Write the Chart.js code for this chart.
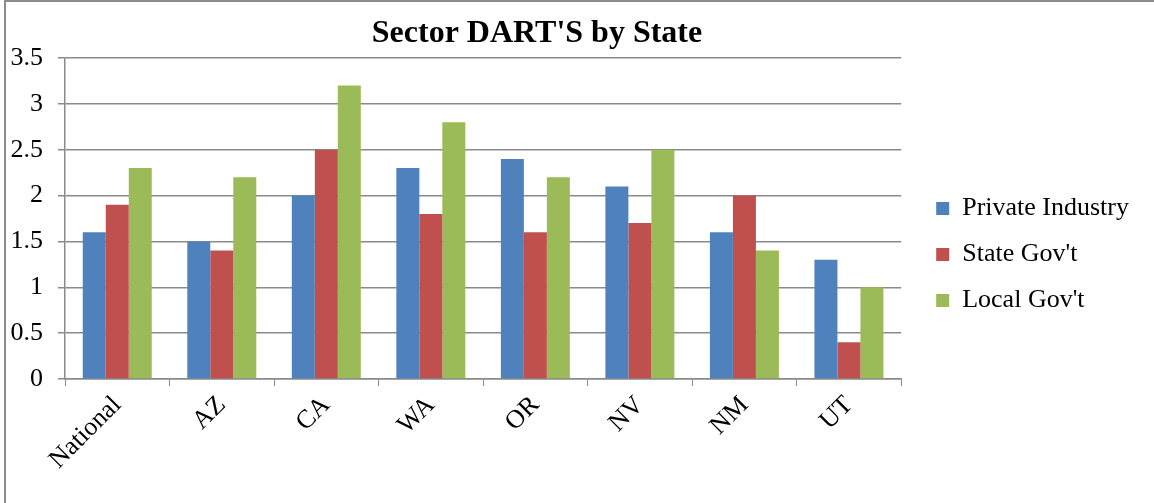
<!DOCTYPE html>
<html>
<head>
<meta charset="utf-8">
<script src="https://cdn.jsdelivr.net/npm/chart.js@4.4.1/dist/chart.umd.min.js"></script>
<style>
    body { margin: 0; background: #fff; }
    #wrap { position: relative; width: 1154px; height: 503px; overflow: hidden; }
    #frame { position: absolute; left: 4px; top: 0; width: 1200px; height: 600px;
             border-left: 2px solid #8c8c8c; border-top: 2px solid #8c8c8c; }
    canvas { position: absolute; left: 0; top: 0; }
</style>
</head>
<body>
<div id="wrap">
    <div id="frame"></div>
    <canvas id="dartChart" width="1154" height="503"></canvas>
</div>
<script>
const states = ['National', 'AZ', 'CA', 'WA', 'OR', 'NV', 'NM', 'UT'];
const privateIndustry = [1.6, 1.5, 2.0, 2.3, 2.4, 2.1, 1.6, 1.3];
const stateGov = [1.9, 1.4, 2.5, 1.8, 1.6, 1.7, 2.0, 0.4];
const localGov = [2.3, 2.2, 3.2, 2.8, 2.2, 2.5, 1.4, 1.0];
const yTicks = [0, 0.5, 1, 1.5, 2, 2.5, 3, 3.5];

document.addEventListener("DOMContentLoaded", () => {
    const serif = "'Liberation Serif', 'Times New Roman', serif";
    const gridColor = '#8a8a8a';

    // title drawn by hand so it can sit off-centre like the Excel one
    const titlePlugin = {
        id: 'excelTitle',
        afterDraw(chart) {
            const ctx = chart.ctx;
            ctx.save();
            ctx.font = "bold 32px " + serif;
            ctx.fillStyle = '#000';
            ctx.textAlign = 'center';
            ctx.textBaseline = 'alphabetic';
            ctx.fillText("Sector DART'S by State", 537, 42);
            ctx.restore();
        }
    };

    // nudge the legend over to where Excel puts it
    const legendShift = {
        id: 'legendShift',
        afterLayout(chart) {
            const lg = chart.legend;
            if (!lg) return;
            lg.left += 15; lg.right += 15;
            lg.top -= 26; lg.bottom -= 26;
        }
    };

    new Chart(document.getElementById('dartChart'), {
        type: 'bar',
        data: {
            labels: states,
            datasets: [
                { label: 'Private Industry', data: privateIndustry, backgroundColor: '#4f81bd' },
                { label: "State Gov't", data: stateGov, backgroundColor: '#c0504d' },
                { label: "Local Gov't", data: localGov, backgroundColor: '#9bbb59' }
            ]
        },
        options: {
            responsive: false,
            animation: false,
            layout: { padding: { top: 58, left: 0, right: 30, bottom: 0 } },
            datasets: { bar: { categoryPercentage: 0.66, barPercentage: 1.0 } },
            plugins: {
                title: { display: false },
                tooltip: { enabled: false },
                legend: {
                    position: 'right',
                    align: 'center',
                    labels: {
                        color: '#000',
                        font: { family: serif, size: 26 },
                        boxWidth: 13,
                        boxHeight: 13,
                        padding: 20
                    }
                }
            },
            scales: {
                x: {
                    grid: { drawOnChartArea: false, drawTicks: true, tickLength: 7, color: gridColor, offset: true },
                    border: { color: gridColor, width: 1.5 },
                    ticks: { color: '#000', font: { family: serif, size: 26 }, minRotation: 45, maxRotation: 45, padding: 4 },
                    afterFit: (scale) => { scale.height = 124; }
                },
                y: {
                    min: 0,
                    max: 3.5,
                    afterBuildTicks: (scale) => { scale.ticks = yTicks.map(v => ({ value: v })); },
                    grid: { color: gridColor, lineWidth: 1.5, tickLength: 7 },
                    border: { color: gridColor, width: 1.5 },
                    ticks: {
                        color: '#000',
                        font: { family: serif, size: 26 },
                        padding: 15,
                        callback: (v) => String(v)
                    },
                    afterFit: (scale) => { scale.width = 65; }
                }
            }
        },
        plugins: [titlePlugin, legendShift]
    });
});
</script>
</body>
</html>
